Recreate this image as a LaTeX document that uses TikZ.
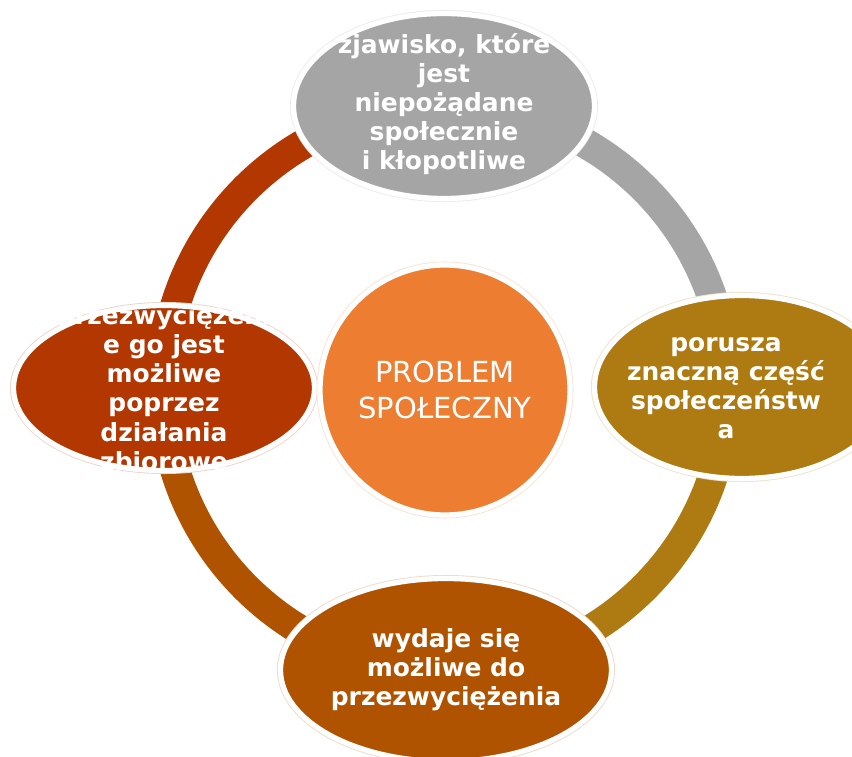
\documentclass[tikz,border=0pt]{standalone}
\usepackage{fontspec}
\setmainfont{DejaVu Sans}
\usepackage{tikz}
\usetikzlibrary{shapes.geometric,backgrounds}
\definecolor{pgray}{HTML}{A5A5A5}
\definecolor{pgold}{HTML}{AE7A12}
\definecolor{pbrown}{HTML}{B05300}
\definecolor{prust}{HTML}{B33700}
\definecolor{porange}{HTML}{ED7D31}

\begin{document}
\begin{tikzpicture}[
   bub/.style={ellipse, fill=#1, draw=white, line width=3pt, inner sep=0pt,
      preaction={draw=#1!22, line width=4pt}},
   txt/.style={text=white, align=center,
      font=\fontsize{14.2}{16.6}\selectfont\bfseries},
   ring/.style={line width=0.6cm}]
   \useasboundingbox (0,0) rectangle (17.04,15.12);

   % the four bubbles on the ring
   \node[bub=pgray, minimum width=6.02cm, minimum height=3.7cm]   (zjaw)  at (8.88,13.0) {};
   \node[bub=pgold, minimum width=5.9cm, minimum height=3.66cm]   (poru)  at (14.84,7.38) {};
   \node[bub=pbrown, minimum width=6.62cm, minimum height=3.66cm] (wyda)  at (8.92,1.72) {};
   \node[bub=prust, minimum width=6.02cm, minimum height=3.3cm]   (przez) at (3.28,7.36) {};

   % middle circle
   \node[circle, fill=porange, draw=white, line width=3pt, minimum size=5cm,
      inner sep=0pt, preaction={draw=porange!22, line width=4pt}] (prob) at (8.9,7.32) {};

   \node[txt] (zjawT) at (8.88,13.04) {zjawisko, które\\jest\\niepożądane\\społecznie\\i kłopotliwe};
   \node[txt] (poruT) at (14.52,7.36) {porusza\\znaczną część\\społeczeństw\\a};
   \node[txt] (wydaT) at (wyda.center) {wydaje się\\możliwe do\\przezwyciężenia};
   \node[txt] (przezT) at (przez.center) {przezwyciężeni\\e go jest\\możliwe\\poprzez\\działania\\zbiorowe};
   \node[text=white, align=center, font=\fontsize{16.5}{20}\selectfont] (probT) at (prob.center) {PROBLEM\\SPOŁECZNY};

   % ring behind everything
   \begin{scope}[on background layer]
      \coordinate (ringc) at (8.9,7.36);
      \draw[ring, pgray]  (ringc) ++(90:5.64)  arc[start angle=90,  end angle=0,   radius=5.64cm];
      \draw[ring, pgold]  (ringc) ++(0:5.64)   arc[start angle=0,   end angle=-90, radius=5.64cm];
      \draw[ring, pbrown] (ringc) ++(270:5.64) arc[start angle=270, end angle=180, radius=5.64cm];
      \draw[ring, prust]  (ringc) ++(180:5.64) arc[start angle=180, end angle=90,  radius=5.64cm];
   \end{scope}
\end{tikzpicture}
\end{document}
